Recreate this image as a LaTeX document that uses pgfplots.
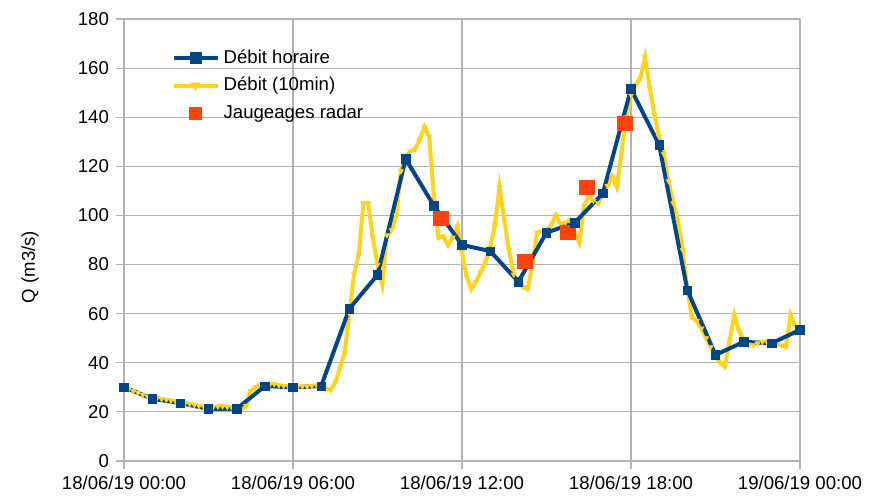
\documentclass[border=0pt]{standalone}
\usepackage{fontspec}
\setmainfont{Liberation Sans}
\usepackage{pgfplots}
\usepackage{pgfplotstable}
\pgfplotsset{compat=1.18}
\definecolor{lBlue}{HTML}{004586}
\definecolor{lOrange}{HTML}{FF420E}
\definecolor{lYellow}{HTML}{FFD320}
\definecolor{gridGray}{HTML}{B3B3B3}

% hourly discharge (x in minutes from 18/06/19 00:00)
\pgfplotstableread{
t q
0 30.1
60 25.3
120 23.6
180 21.2
240 21.2
300 30.5
360 30.0
420 30.5
480 62.0
540 75.8
600 123.0
660 104.0
720 88.0
780 85.5
840 73.0
900 93.0
960 97.0
1020 109.0
1080 151.5
1140 128.7
1200 69.6
1260 43.2
1320 48.5
1380 48.0
1440 53.4
}\hourly

% 10-min discharge
\pgfplotstableread{
t q
0 30.0
10 29.2
20 28.5
30 27.8
40 27.0
50 26.3
60 25.8
70 25.6
80 25.3
90 25.0
100 24.6
110 24.3
120 24.0
130 23.6
140 23.2
150 22.8
160 22.4
170 22.0
180 21.8
190 22.0
200 22.2
210 22.3
220 22.0
230 21.8
240 21.5
250 20.8
260 22.5
270 28.5
280 30.0
290 31.0
300 31.2
310 31.0
320 31.3
330 30.8
340 30.6
350 30.3
360 30.0
370 30.2
380 30.4
390 30.3
400 30.6
410 30.8
420 30.6
430 29.5
440 29.0
450 32.0
460 38.0
470 44.0
480 60.0
490 76.0
500 84.0
510 105.0
520 105.0
530 91.0
540 80.0
550 72.0
560 92.0
570 94.0
580 100.0
590 118.0
600 124.0
610 126.0
620 127.0
630 131.0
640 136.0
650 132.0
660 108.0
670 91.0
680 91.5
690 88.0
700 91.0
710 95.5
720 85.0
730 75.0
740 70.0
750 73.0
760 77.0
770 81.0
780 87.0
790 96.0
800 111.5
810 98.0
820 86.0
830 76.0
840 72.5
850 71.0
860 70.0
870 80.0
880 93.0
890 93.5
900 94.0
910 96.0
920 100.0
930 96.5
940 97.0
950 98.0
960 93.0
970 89.0
980 104.0
990 107.5
1000 106.0
1010 105.0
1020 108.5
1030 112.0
1040 115.8
1050 111.5
1060 126.0
1070 140.0
1080 149.0
1090 153.0
1100 156.0
1110 164.5
1120 152.0
1130 141.0
1140 132.0
1150 125.0
1160 114.0
1170 105.0
1180 98.0
1190 86.0
1200 70.0
1210 58.5
1220 57.0
1230 54.0
1240 50.0
1250 46.5
1260 42.5
1270 40.0
1280 38.5
1290 49.0
1300 59.5
1310 53.0
1320 49.5
1330 47.5
1340 47.3
1350 48.0
1360 48.6
1370 48.3
1380 48.0
1390 47.5
1400 47.2
1410 46.5
1420 59.5
1430 55.0
1440 53.5
}\tenmin

% radar gaugings
\pgfplotstableread{
t q
675 98.8
854 81.2
946 93.0
986 111.5
1067 137.5
}\radar

\begin{document}
\begin{tikzpicture}
\useasboundingbox (-62pt,-18.5pt) rectangle (372.5pt,230.5pt);
\begin{axis}[
  at={(0pt,0pt)}, anchor=south west,
  scale only axis, width=338pt, height=221pt,
  xmin=0, xmax=1440, ymin=0, ymax=180,
  xtick={0,360,720,1080,1440},
  xticklabels={18/06/19 00:00,18/06/19 06:00,18/06/19 12:00,18/06/19 18:00,19/06/19 00:00},
  ytick={0,20,...,180},
  /pgf/number format/assume math mode=true,
  font=\fontsize{9.3}{11}\selectfont,
  tick label style={font=\fontsize{9.3}{11}\selectfont},
  axis lines=left, axis line style={gridGray,-},
  tick style={gridGray, line width=0.6pt},
  tick align=outside, major tick length=4pt,
  grid=major, grid style={gridGray, line width=0.6pt},
  ylabel={Q (m3/s)},
  ylabel style={at={(axis description cs:-0.139,0.439)}, anchor=center},
  legend style={at={(axis description cs:0.061,0.95)}, anchor=north west,
    draw=none, fill=none, font=\fontsize{9.3}{11}\selectfont, row sep=1.5pt},
  legend cell align=left,
  legend image code/.code={\draw[mark repeat=2,mark phase=2,#1] plot coordinates {(0pt,0pt) (11pt,0pt) (22pt,0pt)};},
]
\addplot[lYellow, line width=2pt, mark=triangle*, mark size=1.5pt,
  mark options={rotate=180, line width=0.3pt}, forget plot] table[x=t,y=q] {\tenmin};
\addplot[only marks, mark=square*, mark size=3.6pt, color=lOrange,
  mark options={draw=none}, forget plot] table[x=t,y=q] {\radar};
\addplot[lBlue, line width=2pt, mark=square*, mark size=2.1pt,
  mark options={line width=0.3pt}, forget plot] table[x=t,y=q] {\hourly};
\addlegendimage{lBlue, line width=2pt, mark=square*, mark size=2.6pt, mark options={line width=0.3pt}}
\addlegendentry{Débit horaire}
\addlegendimage{lYellow, line width=2pt, mark=triangle*, mark size=2.6pt, mark options={rotate=180, line width=0.3pt}}
\addlegendentry{Débit (10min)}
\addlegendimage{only marks, mark=square*, mark size=3pt, color=lOrange, mark options={draw=none}}
\addlegendentry{Jaugeages radar}
\end{axis}
\end{tikzpicture}
\end{document}
